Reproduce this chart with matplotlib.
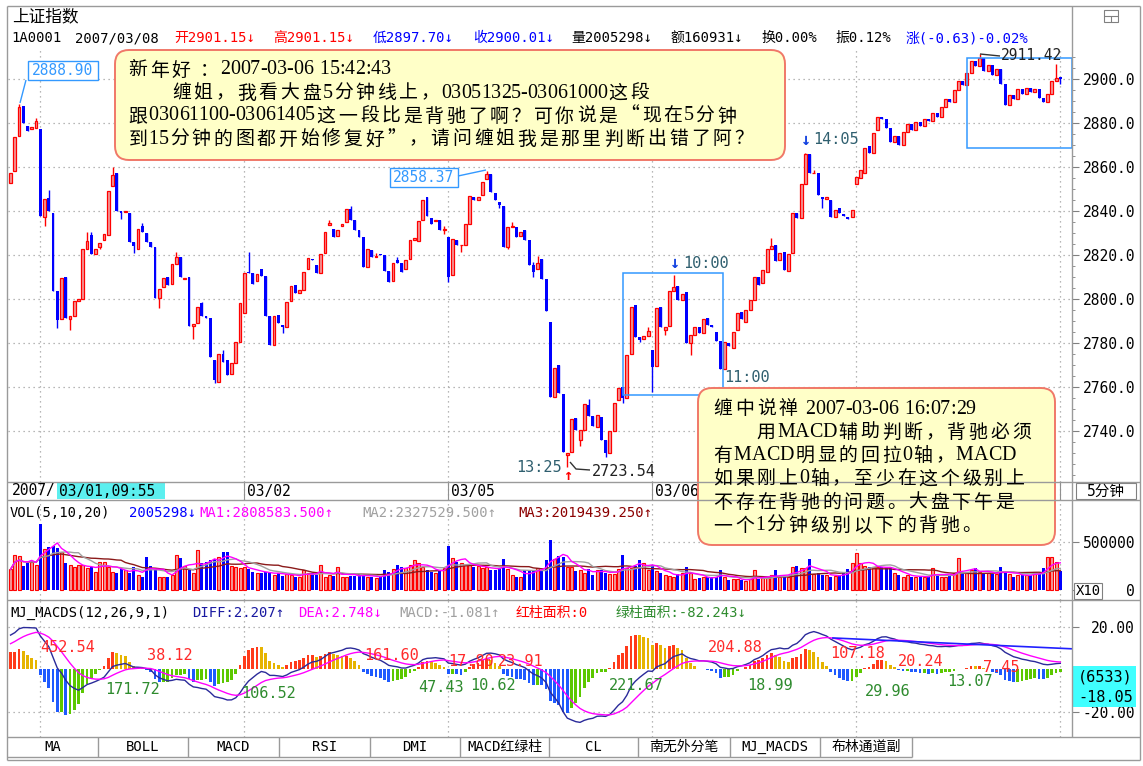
import numpy as np
import pandas as pd
import matplotlib
matplotlib.use('Agg')
import matplotlib.pyplot as plt
from matplotlib.patches import FancyBboxPatch, Rectangle
from matplotlib.font_manager import FontProperties

# ---------------------------------------------------------------- data
# 5-minute bars of 上证指数, 2007-02-28 (tail) .. 2007-03-08 (first bar)
opens = [
    2852.6, 2858.4, 2874.2, 2888.0, 2878.7, 2877.5, 2878.0, 2877.5, 2837.4, 2846.0,
    2839.3, 2803.4, 2790.7, 2810.1, 2791.0, 2792.2, 2799.2, 2799.8, 2822.6, 2829.0,
    2820.4, 2823.5, 2826.8, 2829.0, 2851.5, 2857.2, 2840.2, 2839.5, 2839.0, 2826.0,
    2822.6, 2833.0, 2830.0, 2826.0, 2823.5, 2800.2, 2805.3, 2809.8, 2806.7, 2816.0,
    2818.9, 2809.0, 2810.0, 2787.6, 2789.0, 2798.0, 2792.0, 2791.5, 2772.0, 2762.3,
    2774.9, 2772.0, 2766.0, 2771.0, 2780.5, 2793.4, 2812.3, 2811.6, 2808.0, 2813.4,
    2810.4, 2792.2, 2779.0, 2792.6, 2788.0, 2787.0, 2799.0, 2806.3, 2802.8, 2804.0,
    2813.5, 2818.3, 2815.5, 2812.0, 2821.0, 2833.6, 2831.7, 2828.6, 2833.0, 2835.0,
    2840.8, 2835.9, 2831.4, 2828.3, 2814.4, 2822.3, 2818.9, 2820.5, 2820.0, 2812.8,
    2808.0, 2817.6, 2816.2, 2813.5, 2818.0, 2826.8, 2826.5, 2836.0, 2846.2, 2837.0,
    2835.4, 2835.8, 2831.3, 2828.3, 2811.0, 2826.8, 2824.4, 2824.6, 2834.1, 2846.5,
    2845.0, 2847.5, 2854.8, 2856.9, 2848.3, 2844.0, 2842.2, 2823.8, 2832.8, 2832.6,
    2828.6, 2831.4, 2826.8, 2815.4, 2813.5, 2818.0, 2808.9, 2789.6, 2755.5, 2770.0,
    2756.7, 2729.0, 2730.4, 2745.6, 2735.7, 2740.3, 2751.7, 2746.7, 2741.5, 2746.3,
    2735.7, 2729.7, 2740.0, 2754.0, 2760.0, 2754.7, 2775.0, 2797.2, 2782.5, 2781.8,
    2783.0, 2776.7, 2769.4, 2796.1, 2786.0, 2787.6, 2803.8, 2806.0, 2799.5, 2803.3,
    2780.1, 2783.5, 2787.0, 2784.3, 2791.1, 2788.2, 2785.1, 2781.0, 2767.9, 2780.0,
    2777.5, 2786.0, 2794.2, 2789.5, 2795.0, 2799.5, 2810.1, 2807.4, 2812.4, 2822.6,
    2824.6, 2817.7, 2821.5, 2812.9, 2820.7, 2839.0, 2836.7, 2852.3, 2866.0, 2857.2,
    2857.5, 2846.5, 2845.3, 2844.8, 2837.4, 2841.5, 2838.5, 2837.2, 2837.4, 2852.3,
    2855.0, 2857.5, 2869.6, 2866.5, 2877.0, 2883.0, 2882.0, 2878.0, 2871.5, 2874.0,
    2870.0, 2876.0, 2879.5, 2877.0, 2880.5, 2878.5, 2882.0, 2881.0, 2884.5, 2883.0,
    2887.5, 2891.0, 2889.5, 2895.0, 2899.0, 2897.5, 2903.0, 2908.5, 2906.0, 2909.5,
    2904.0, 2906.5, 2902.0, 2904.5, 2898.0, 2888.5, 2893.0, 2891.0, 2895.5, 2893.5,
    2896.0, 2894.0, 2895.5, 2891.5, 2889.5, 2893.5, 2899.0, 2901.15,
]
closes = [
    2857.5, 2873.6, 2887.5, 2880.0, 2876.5, 2878.2, 2881.2, 2837.8, 2845.3, 2839.9,
    2803.7, 2790.4, 2809.5, 2791.1, 2792.2, 2799.2, 2799.8, 2822.6, 2826.5, 2820.4,
    2822.6, 2825.5, 2829.5, 2849.3, 2856.4, 2840.2, 2839.0, 2840.2, 2826.0, 2824.0,
    2831.7, 2830.5, 2826.0, 2823.8, 2800.2, 2804.3, 2809.3, 2806.3, 2815.9, 2818.9,
    2810.1, 2809.6, 2787.6, 2788.5, 2796.4, 2792.0, 2791.5, 2773.7, 2763.1, 2774.9,
    2771.4, 2765.3, 2770.7, 2780.5, 2798.0, 2811.9, 2811.6, 2806.8, 2811.3, 2810.4,
    2792.2, 2779.0, 2792.2, 2788.9, 2787.0, 2798.7, 2805.9, 2802.8, 2804.0, 2812.4,
    2818.5, 2817.5, 2812.0, 2820.4, 2830.6, 2834.5, 2828.0, 2831.4, 2834.0, 2840.8,
    2835.9, 2831.4, 2828.3, 2814.4, 2822.6, 2818.9, 2819.5, 2820.0, 2812.8, 2807.8,
    2816.2, 2816.2, 2812.4, 2817.7, 2826.8, 2827.5, 2835.6, 2845.0, 2837.8, 2834.1,
    2836.0, 2831.4, 2831.5, 2810.1, 2827.1, 2824.5, 2824.6, 2834.1, 2846.8, 2845.0,
    2846.5, 2853.4, 2856.8, 2848.8, 2845.0, 2842.6, 2823.8, 2832.6, 2833.2, 2828.3,
    2830.6, 2826.8, 2815.4, 2812.4, 2816.2, 2808.9, 2794.6, 2755.5, 2768.4, 2757.3,
    2730.4, 2730.0, 2745.2, 2740.3, 2740.3, 2752.1, 2746.7, 2742.1, 2747.1, 2735.7,
    2729.7, 2739.8, 2752.7, 2759.3, 2754.7, 2774.4, 2796.4, 2782.5, 2781.4, 2782.9,
    2785.4, 2769.1, 2795.7, 2787.3, 2787.3, 2803.8, 2805.6, 2799.5, 2802.2, 2780.1,
    2783.5, 2787.0, 2784.3, 2790.7, 2788.2, 2787.0, 2781.0, 2767.9, 2780.5, 2778.6,
    2785.1, 2793.7, 2791.0, 2795.0, 2799.5, 2810.1, 2806.3, 2813.2, 2822.6, 2824.1,
    2817.4, 2821.1, 2813.2, 2820.4, 2839.3, 2836.7, 2852.3, 2866.0, 2857.2, 2857.4,
    2847.3, 2845.3, 2846.5, 2837.4, 2840.5, 2838.9, 2837.8, 2836.6, 2840.5, 2855.6,
    2858.7, 2868.6, 2866.5, 2875.4, 2883.0, 2882.0, 2878.0, 2871.5, 2874.0, 2870.0,
    2876.0, 2879.5, 2877.0, 2880.5, 2878.5, 2882.0, 2881.0, 2884.5, 2883.0, 2887.5,
    2891.0, 2889.5, 2895.0, 2899.0, 2897.5, 2903.0, 2908.5, 2906.0, 2909.5, 2904.0,
    2906.5, 2902.0, 2904.5, 2898.0, 2888.5, 2893.0, 2891.0, 2895.5, 2893.5, 2896.0,
    2894.0, 2895.5, 2891.5, 2889.5, 2893.5, 2899.0, 2900.64, 2900.01,
]
# visible wicks (1-based bar number -> extreme price)
wick_high_bars = [3, 7, 10, 19, 20, 25, 32, 40, 46, 51, 57, 76, 81, 87, 92, 103, 113, 119,
                  124, 125, 137, 151, 157, 180, 188, 190, 229, 247, 248]
wick_high_vals = [2888.90, 2882.3, 2849.6, 2830.6, 2830.5, 2860.0, 2834.7, 2821.5, 2798.8,
                  2776.8, 2821.5, 2836.0, 2842.3, 2821.0, 2819.0, 2833.0, 2858.37, 2834.8,
                  2816.9, 2819.5, 2754.5, 2787.0, 2810.7, 2827.6, 2866.5, 2858.5, 2911.42,
                  2907.0, 2901.15]
wick_low_bars = [9, 12, 15, 22, 27, 30, 36, 44, 49, 65, 103, 104, 107, 116, 118, 124, 132,
                 135, 141, 145, 149, 152, 155, 161, 192, 248]
wick_low_vals = [2833.2, 2786.6, 2785.8, 2822.5, 2836.2, 2820.8, 2795.7, 2781.6, 2761.5,
                 2784.6, 2829.6, 2807.8, 2821.5, 2841.6, 2822.5, 2810.0, 2723.54, 2733.0,
                 2728.0, 2752.5, 2780.5, 2757.8, 2783.5, 2774.4, 2841.2, 2897.70]

# volume, in thousands of the panel's (X10) units
vol_k = [
    215, 365, 354, 250, 278, 295, 260, 684, 424, 451,
    458, 434, 399, 278, 260, 236, 260, 260, 226, 236,
    191, 295, 295, 236, 191, 181, 215, 208, 174, 243,
    156, 139, 340, 250, 215, 139, 139, 139, 156, 365,
    330, 250, 208, 181, 417, 278, 295, 312, 319, 340,
    399, 399, 250, 236, 226,
    236, 215, 191, 174, 174, 191, 181, 156, 174, 146,
    167, 156, 139, 139, 208, 174, 174, 156, 260, 139,
    156, 146, 236, 139, 139, 146, 146, 167, 156, 132,
    139, 122, 139, 208, 191, 215, 260, 236, 226, 260,
    312, 278, 236, 208, 191, 174, 208, 226,
    458,
    330, 295, 278, 260, 260, 236, 250, 226, 236, 208,
    208, 226, 323, 215, 156, 139, 139, 208, 208, 208,
    226, 208, 312, 521, 319, 354, 347, 236, 236, 201,
    208, 174, 215, 156, 208, 208, 181, 167, 167, 215,
    365, 226, 226, 250, 312, 278, 208,
    260,
    201, 181, 156, 146, 139, 167, 174,
    236, 174, 111, 122, 132, 132, 132, 139, 208, 139,
    104, 115, 111, 104, 97, 111, 208, 111, 122, 122,
    156, 208, 139, 139, 139, 243, 250, 226, 226, 319,
    167, 174, 156, 156, 139, 146, 146, 191, 215, 278,
    389,
    278, 250, 236, 236, 236, 236, 236, 236, 174, 156,
    139, 156, 139, 139, 139, 132, 139, 226, 167, 139,
    139, 156, 174, 330, 174, 174, 208, 226, 191, 174,
    174, 167, 167, 243, 174, 167, 139, 156, 156, 156,
    156, 191, 174, 226, 347, 347, 295, 200.5,
]
ema12_seed, ema26_seed, dea_seed = 2842.0, 2826.0, 11.0

day_first_bar = [8, 56, 104, 152, 200, 248]            # 1-based bar opening each day
day_labels = ['03/01', '03/02', '03/05', '03/06', '03/07', '03/08']
price_ticks = [2740, 2760, 2780, 2800, 2820, 2840, 2860, 2880, 2900]

header_fields = [('1A0001', 'k'), ('2007/03/08', 'k'), ('开2901.15↓', '#FF0000'),
                 ('高2901.15↓', '#FF0000'), ('低2897.70↓', '#0000FF'), ('收2900.01↓', '#0000FF'),
                 ('量2005298↓', 'k'), ('额160931↓', 'k'), ('换0.00%', 'k'), ('振0.12%', 'k'),
                 ('涨(-0.63)-0.02%', '#0000FF')]
vol_title = [('VOL(5,10,20)', 'k'), ('2005298↓', '#0000FF'), ('MA1:2808583.500↑', '#FF00FF'),
             ('MA2:2327529.500↑', '#A0A0A0'), ('MA3:2019439.250↑', '#8B0000')]
macd_title = [('MJ_MACDS(12,26,9,1)', 'k'), ('DIFF:2.207↑', '#1818A0'), ('DEA:2.748↓', '#FF00FF'),
              ('MACD:-1.081↑', '#A0A0A0'), ('红柱面积:0', '#FF0000'), ('绿柱面积:-82.243↓', '#2E8B2E')]
macd_area_texts = ['452.54', '171.72', '38.12', '106.52', '161.60', '47.43', '17.80', '10.62',
                   '23.91', '221.67', '204.88', '18.99', '107.18', '29.96', '20.24', '13.07', '7.45']
macd_area_sign = [1, -1, 1, -1, 1, -1, 1, -1, 1, -1, 1, -1, 1, -1, 1, -1, 1]
tab_names = ['MA', 'BOLL', 'MACD', 'RSI', 'DMI', 'MACD红绿柱', 'CL', '南无外分笔', 'MJ_MACDS', '布林通道副']
note1 = ['新年好 ：2007-03-06 15:42:43',
         '　　缠姐，我看大盘5分钟线上，03051325-03061000这段',
         '跟03061100-03061405这一段比是背驰了啊？可你说是“现在5分钟',
         '到15分钟的图都开始修复好”，请问缠姐我是那里判断出错了阿？']
note2 = ['缠中说禅 2007-03-06 16:07:29',
         '　　用MACD辅助判断，背驰必须',
         '有MACD明显的回拉0轴，MACD',
         '如果刚上0轴，至少在这个级别上',
         '不存在背驰的问题。大盘下午是',
         '一个1分钟级别以下的背驰。']

# ---------------------------------------------------------------- derived series
o = np.array(opens, float)
c = np.array(closes, float)
n = len(c)
assert len(o) == n == len(vol_k) == 248
hi = np.maximum(o, c)
lo = np.minimum(o, c)
for b, v in zip(wick_high_bars, wick_high_vals):
    hi[b - 1] = max(hi[b - 1], v)
for b, v in zip(wick_low_bars, wick_low_vals):
    lo[b - 1] = min(lo[b - 1], v)
x = np.arange(n)
up = c >= o

vol = np.array(vol_k, float)
vs = pd.Series(vol)
ma5, ma10, ma20 = [vs.rolling(k, min_periods=1).mean().values for k in (5, 10, 20)]

diff = np.empty(n); dea = np.empty(n)
e12, e26, d = ema12_seed, ema26_seed, dea_seed
for i, ci in enumerate(c):
    e12 += (ci - e12) * 2 / 13
    e26 += (ci - e26) * 2 / 27
    diff[i] = e12 - e26
    d += (diff[i] - d) * 2 / 10
    dea[i] = d
macd = 2 * (diff - dea)
prev = np.r_[macd[0], macd[:-1]]
hist_col = np.where(macd >= 0,
                    np.where(macd >= prev, '#FF3A1A', '#E6B400'),
                    np.where(macd <= prev, '#1E5AFF', '#5CC800'))

# ---------------------------------------------------------------- figure
W, H = 1143, 766
fig = plt.figure(figsize=(W / 100, H / 100), dpi=100)
fig.patch.set_facecolor('white')
MONO = ['DejaVu Sans Mono', 'Noto Sans CJK SC']
CJK = ['Noto Sans CJK SC', 'DejaVu Sans']
GRID = dict(color='#A0A0A0', linestyle=(0, (1, 3)), linewidth=0.9)
XLIM = (-0.6, 249.75)


def px_axes(x0, y0, x1, y1, **kw):
    return fig.add_axes([x0 / W, 1 - y1 / H, (x1 - x0) / W, (y1 - y0) / H], **kw)


def style(ax):
    for s in ax.spines.values():
        s.set_visible(False)
    ax.set_facecolor('none')
    ax.set_xlim(*XLIM)
    ax.tick_params(axis='x', bottom=False, labelbottom=False)
    ax.tick_params(axis='y', which='both', left=False, labelleft=False, right=True,
                   labelright=True, color='#808080', direction='out')
    ax.tick_params(axis='y', which='major', length=5, pad=40.4, labelsize=10.5)
    ax.tick_params(axis='y', which='minor', length=2.5)
    for b in day_first_bar:
        ax.axvline(b - 1, **GRID, zorder=0)


ax_p = px_axes(8, 48, 1072, 482)
ax_d = px_axes(8, 482, 1072, 500)
ax_v = px_axes(8, 500, 1072, 600)
ax_m = px_axes(8, 600, 1072, 737)

# ---- price panel
style(ax_p)
ax_p.set_ylim(2716.6, 2914.25)
ax_p.set_yticks(price_ticks, [f'{t:.1f}' for t in price_ticks], fontfamily=MONO, ha='right')
ax_p.set_yticks(np.arange(2720, 2915, 5), minor=True)
for t in price_ticks:
    ax_p.axhline(t, **GRID, zorder=0)
wcol = np.where(up, '#FF0000', '#0000FF')
ax_p.vlines(x, lo, hi, colors=wcol, linewidth=1.0, zorder=2)
bh = np.maximum(np.abs(c - o), 0.3)
ax_p.bar(x[up], bh[up], bottom=np.minimum(o, c)[up], width=0.68, facecolor='#F39A9A',
         edgecolor='#FF0000', linewidth=0.9, zorder=3)
ax_p.bar(x[~up], bh[~up], bottom=np.minimum(o, c)[~up], width=0.68, color='#0000FF',
         linewidth=0, zorder=3)
# user boxes
ax_p.add_patch(Rectangle((144.1, 2756.2), 23.5, 55.6, fill=False, ec='#3399FF', lw=1.1, zorder=4))
ax_p.add_patch(Rectangle((225.0, 2868.7), 24.7, 41.0, fill=False, ec='#3399FF', lw=1.1, zorder=4))

# ---- date strip (03/07 and 03/08 labels are hidden in the reference)
style(ax_d)
ax_d.set_ylim(0, 1)
ax_d.tick_params(axis='y', right=False, labelright=False, which='both')
for b, lab in zip(day_first_bar[1:4], day_labels[1:4]):
    ax_d.text(b - 1 + 0.7, 0.48, lab, fontfamily=MONO, fontsize=10.5, va='center', ha='left')
for b in day_first_bar[1:]:
    ax_d.plot([b - 1, b - 1], [0, 1], color='#909090', lw=0.8)

# ---- volume panel
style(ax_v)
ax_v.set_ylim(-104.2, 937.5)
ax_v.set_yticks([0, 500], ['0', '500000'], fontfamily=MONO, ha='right')
ax_v.axhline(500, **GRID, zorder=0)
ax_v.bar(x[up], vol[up], width=0.72, facecolor='#F39A9A', edgecolor='#FF0000', linewidth=0.8, zorder=2)
ax_v.bar(x[~up], vol[~up], width=0.72, color='#0000FF', linewidth=0, zorder=2)
ax_v.plot(x, ma20, color='#8B1A1A', lw=1.0, zorder=3)
ax_v.plot(x, ma10, color='#A0A0A0', lw=1.0, zorder=3)
ax_v.plot(x, ma5, color='#FF00FF', lw=1.0, zorder=4)

# ---- MACD panel
style(ax_m)
ax_m.set_ylim(-31.9, 32.56)
ax_m.set_yticks([20, -20], ['20.00', '-20.00'], fontfamily=MONO, ha='right')
for t in (20, -20):
    ax_m.axhline(t, **GRID, zorder=0)
ax_m.bar(x, macd, width=0.62, color=hist_col, linewidth=0, zorder=2)
ax_m.plot(x, diff, color='#2A2A9A', lw=1.0, zorder=3)
ax_m.plot(x, dea, color='#FF00FF', lw=1.0, zorder=3)
ax_m.plot([193.5, 249.7], [14.7, 9.6], color='#2020FF', lw=1.2, zorder=3)

# ---------------------------------------------------------------- overlay (chrome + notes)
ov = fig.add_axes([0, 0, 1, 1], zorder=10)
ov.set_xlim(0, W); ov.set_ylim(H, 0); ov.axis('off')
G = '#9A9A9A'


def line(xs, ys, col=G, lw=1.0):
    ov.plot(xs, ys, color=col, lw=lw, solid_capstyle='butt')


line([7, 1140], [6, 6]); line([7, 7], [6, 760]); line([1140, 1140], [6, 760]); line([7, 1140], [760, 760])
line([1072, 1072], [6, 737])
for yy in (482, 500, 600, 737):
    line([7, 1140], [yy, yy])
line([7, 912], [757, 757])
ov.add_patch(Rectangle((1104, 10), 14, 12, fill=False, ec='#808080', lw=0.8))
line([1104, 1118], [16, 16], '#808080', 0.8); line([1111, 1111], [16, 22], '#808080', 0.8)

ov.text(12, 17, '上证指数', fontfamily=CJK, fontsize=12, va='center')
hx = [11, 75, 174, 273, 373, 473, 571, 670, 761, 835, 906]
for xx, (s, col) in zip(hx, header_fields):
    ov.text(xx, 38, s, fontfamily=MONO, fontsize=10, color=col, va='center')
for xx, (s, col) in zip([10, 129, 199, 362, 518], vol_title):
    ov.text(xx, 513, s, fontfamily=MONO, fontsize=10, color=col, va='center')
for xx, (s, col) in zip([10, 192, 298, 399, 516, 616], macd_title):
    ov.text(xx, 613, s, fontfamily=MONO, fontsize=10, color=col, va='center')

# date strip left label with highlight
ov.text(12, 491, '2007/', fontfamily=MONO, fontsize=10.5, va='center')
ov.add_patch(Rectangle((57, 483), 108, 16, color='#5CEFEF', lw=0))
ov.text(59, 491, '03/01,09:55', fontfamily=MONO, fontsize=10.5, va='center')
ov.add_patch(Rectangle((1076, 483), 60, 16, fc='white', ec='#808080', lw=0.8))
ov.text(1106, 491, '5分钟', fontfamily=MONO, fontsize=10.5, va='center', ha='center')
ov.add_patch(Rectangle((1074, 583), 28, 16, fc='white', ec='#808080', lw=0.8))
ov.text(1088, 591, 'X10', fontfamily=MONO, fontsize=10, va='center', ha='center')
ov.add_patch(Rectangle((1072, 666), 64, 41, color='#40FFFF', lw=0))
ov.text(1078, 677, '(6533)', fontfamily=MONO, fontsize=11, va='center')
ov.text(1078, 697, '-18.05', fontfamily=MONO, fontsize=11, va='center')

# tabs
tab_x = [8, 98, 188, 279, 370, 460, 549, 638, 730, 820, 912]
for k, name in enumerate(tab_names):
    line([tab_x[k + 1], tab_x[k + 1]], [737, 757])
    ov.text((tab_x[k] + tab_x[k + 1]) / 2, 747, name, fontfamily=MONO, fontsize=10,
            va='center', ha='center')

# MACD area labels
area_pos = [(40, 647), (105, 689), (147, 655), (241, 694), (364, 656), (418, 688), (448, 662),
            (470, 686), (498, 661), (609, 686), (708, 648), (747, 686), (830, 653), (865, 691),
            (898, 662), (947, 682), (983, 668)]
for s, sg, (xx, yy) in zip(macd_area_texts, macd_area_sign, area_pos):
    ov.text(xx, yy, s, fontfamily=MONO, fontsize=11, va='center',
            color='#FF2A2A' if sg > 0 else '#2E8B2E')

# price labels / markers
TEAL = '#2F5F6F'
ov.add_patch(Rectangle((28, 61), 70, 19, fc='white', ec='#3399FF', lw=1))
ov.text(32, 70.5, '2888.90', fontfamily=MONO, fontsize=10.5, color='#3399FF', va='center')
line([26, 20], [80, 103], '#3399FF')
ov.add_patch(Rectangle((390, 168), 68, 19, fc='white', ec='#3399FF', lw=1))
ov.text(393, 177.5, '2858.37', fontfamily=MONO, fontsize=10.5, color='#3399FF', va='center')
line([458, 486], [176, 170], '#3399FF')
line([980, 1000], [54, 56], '#333333')
ov.text(1001, 56, '2911.42', fontfamily=MONO, fontsize=10.5, color='#222222', va='center')
ov.text(675, 263, '↓', fontfamily=MONO, fontsize=12, color='#1040E0', va='center', ha='center',
        fontweight='bold')
ov.text(683, 264, '10:00', fontfamily=MONO, fontsize=11, color=TEAL, va='center')
ov.text(724, 378, '11:00', fontfamily=MONO, fontsize=11, color=TEAL, va='center')
ov.text(806, 140, '↓', fontfamily=MONO, fontsize=12, color='#1040E0', va='center', ha='center',
        fontweight='bold')
ov.text(813, 140, '14:05', fontfamily=MONO, fontsize=11, color=TEAL, va='center')
ov.text(516, 468, '13:25', fontfamily=MONO, fontsize=11, color=TEAL, va='center')
ov.text(568, 476, '↑', fontfamily=MONO, fontsize=11, color='#FF0000', va='center', ha='center',
        fontweight='bold')
line([570, 576, 590], [462, 469, 470], '#333333')
ov.text(592, 471, '2723.54', fontfamily=MONO, fontsize=11, color='#222222', va='center')

# note boxes: character-cell layout (full-width CJK cells, serif Latin)
renderer = fig.canvas.get_renderer()
SER_PROP = FontProperties(family=['Liberation Serif'], size=14.4)
CJK_ADV = 21.7


def is_wide(ch):
    return ord(ch) >= 0x2E80 or ch in '“”'


def note_line(x0, y, s):
    xx = x0
    for ch in s:
        if is_wide(ch):
            if ch != '　':
                ov.text(xx + CJK_ADV / 2, y, ch, fontfamily=CJK, fontsize=13.6,
                        ha='center', va='center')
            xx += CJK_ADV
        elif ch == ' ':
            xx += 6.0
        else:
            ov.text(xx, y, ch, fontproperties=SER_PROP, ha='left', va='center')
            xx += renderer.get_text_width_height_descent(ch, SER_PROP, ismath=False)[0]


ov.add_patch(FancyBboxPatch((115, 50), 670, 110, boxstyle='round,pad=0,rounding_size=14',
                            fc='#FFFFC8', ec='#F07868', lw=1.4))
for k, s in enumerate(note1):
    note_line(127, 70 + k * 23, s)
ov.add_patch(FancyBboxPatch((698, 388), 357, 157, boxstyle='round,pad=0,rounding_size=14',
                            fc='#FFFFC8', ec='#F07868', lw=1.4))
for k, s in enumerate(note2):
    note_line(712, 409 + k * 23.3, s)

fig.savefig('out.png', dpi=100)
